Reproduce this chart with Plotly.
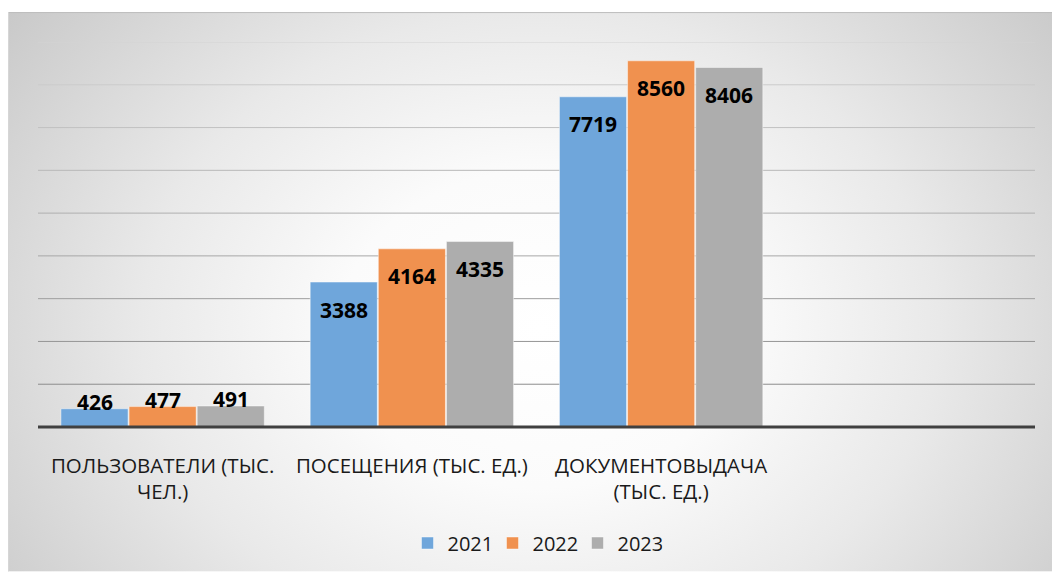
import base64
import plotly.graph_objects as go

# --- data -------------------------------------------------------------
categories = [
    "ПОЛЬЗОВАТЕЛИ (ТЫС.<br>ЧЕЛ.)",
    "ПОСЕЩЕНИЯ (ТЫС. ЕД.)",
    "ДОКУМЕНТОВЫДАЧА<br>(ТЫС. ЕД.)",
]
years = ["2021", "2022", "2023"]
values_2021 = [426, 3388, 7719]
values_2022 = [477, 4164, 8560]
values_2023 = [491, 4335, 8406]
series = [values_2021, values_2022, values_2023]
colors = ["#6FA6DB", "#F0914F", "#ADADAD"]
grid_values = [1000, 2000, 3000, 4000, 5000, 6000, 7000, 8000, 9000]
y_max = 9000

# --- geometry ---------------------------------------------------------
W, H = 1052, 573
ML, MR, MT, MB = 38, 17, 42, 145
PW, PH = W - ML - MR, H - MT - MB
FRAME_X, FRAME_Y = 8, 12          # top-left corner of the chart frame
FW, FH = W - FRAME_X, H - FRAME_Y
BARGAP, GROUPGAP = 0.18, 0.015

# radial-gradient backdrop of the chart frame
cx, cy = 532, 318
svg = f"""<svg xmlns="http://www.w3.org/2000/svg" width="{FW}" height="{FH}" viewBox="0 0 {FW} {FH}" preserveAspectRatio="none">
<defs><radialGradient id="bg" gradientUnits="userSpaceOnUse" cx="0" cy="0" r="1"
 gradientTransform="translate({cx} {cy}) scale(665 530)">
<stop offset="0" stop-color="#FFFFFF"/><stop offset="0.3" stop-color="#FBFBFB"/>
<stop offset="0.6" stop-color="#E9E9E9"/><stop offset="0.85" stop-color="#D5D5D5"/>
<stop offset="1" stop-color="#C9C9C9"/></radialGradient></defs>
<rect x="0" y="0" width="{FW}" height="{FH}" fill="url(#bg)"/>
<line x1="0" y1="0.5" x2="{FW}" y2="0.5" stroke="#BDBDBD" stroke-width="1"/>
<line x1="0.5" y1="0" x2="0.5" y2="{FH}" stroke="#D6D6D6" stroke-width="1"/>
</svg>"""
bg_src = "data:image/svg+xml;base64," + base64.b64encode(svg.encode()).decode()

x_idx = list(range(len(categories)))

fig = go.Figure()
for name, vals, col in zip(years, series, colors):
    fig.add_trace(go.Bar(
        x=x_idx, y=vals, name=name,
        marker=dict(color=col, line=dict(color="rgba(255,255,255,0.45)", width=1)),
        textposition="none", hoverinfo="x+y+name",
    ))

# value labels: inside near the top of tall bars, above short ones
slot = (1 - BARGAP) / len(series)
annotations = []
for j, vals in enumerate(series):
    for i, v in enumerate(vals):
        inside = v >= 1000
        annotations.append(dict(
            x=i + (j - (len(series) - 1) / 2) * slot, y=v,
            xref="x", yref="y", text=str(v), showarrow=False,
            yanchor="middle", yshift=-27.5 if inside else 7,
            font=dict(family="Open Sans", size=21, color="#000000", weight="bold"),
        ))

# gridlines fading out toward the top
shapes = []
for v in grid_values:
    t = v / y_max
    g = int(round(0x8C + (0xD4 - 0x8C) * (t - 1 / 9) / (8 / 9)))
    shapes.append(dict(type="line", xref="paper", x0=0, x1=1, yref="y", y0=v, y1=v,
                       line=dict(color=f"rgb({g},{g},{g})", width=1), layer="below"))
# category axis line along y = 0 (bottom of the plot area)
shapes.append(dict(type="line", xref="paper", x0=0, x1=1, yref="paper", y0=0, y1=0,
                   line=dict(color="#404040", width=3), layer="above"))

fig.update_layout(
    width=W, height=H,
    margin=dict(l=ML, r=MR, t=MT, b=MB, pad=0),
    paper_bgcolor="#FFFFFF", plot_bgcolor="rgba(0,0,0,0)",
    barmode="group", bargap=BARGAP, bargroupgap=GROUPGAP,
    images=[dict(source=bg_src, xref="paper", yref="paper",
                 x=(FRAME_X - ML) / PW, y=(H - MB - FRAME_Y) / PH,
                 sizex=FW / PW, sizey=FH / PH, xanchor="left", yanchor="top",
                 sizing="stretch", layer="below")],
    shapes=shapes, annotations=annotations,
    xaxis=dict(range=[-0.5, 3.5], tickvals=x_idx, ticktext=categories,
               showgrid=False, zeroline=False, showline=False, ticks="",
               ticklabelstandoff=24,
               tickfont=dict(family="Open Sans", size=20.5, color="#1A1A1A"),
               fixedrange=True),
    yaxis=dict(range=[0, y_max], showgrid=False, zeroline=False,
               showticklabels=False, ticks="", fixedrange=True),
    legend=dict(orientation="h", x=(535 - ML) / PW, xanchor="center",
                y=(H - MB - 543) / PH, yanchor="middle",
                entrywidth=40, entrywidthmode="pixels",
                font=dict(family="Open Sans", size=20, color="#1A1A1A"),
                bgcolor="rgba(0,0,0,0)", traceorder="normal"),
    showlegend=True,
)

fig.write_html("out.html")
